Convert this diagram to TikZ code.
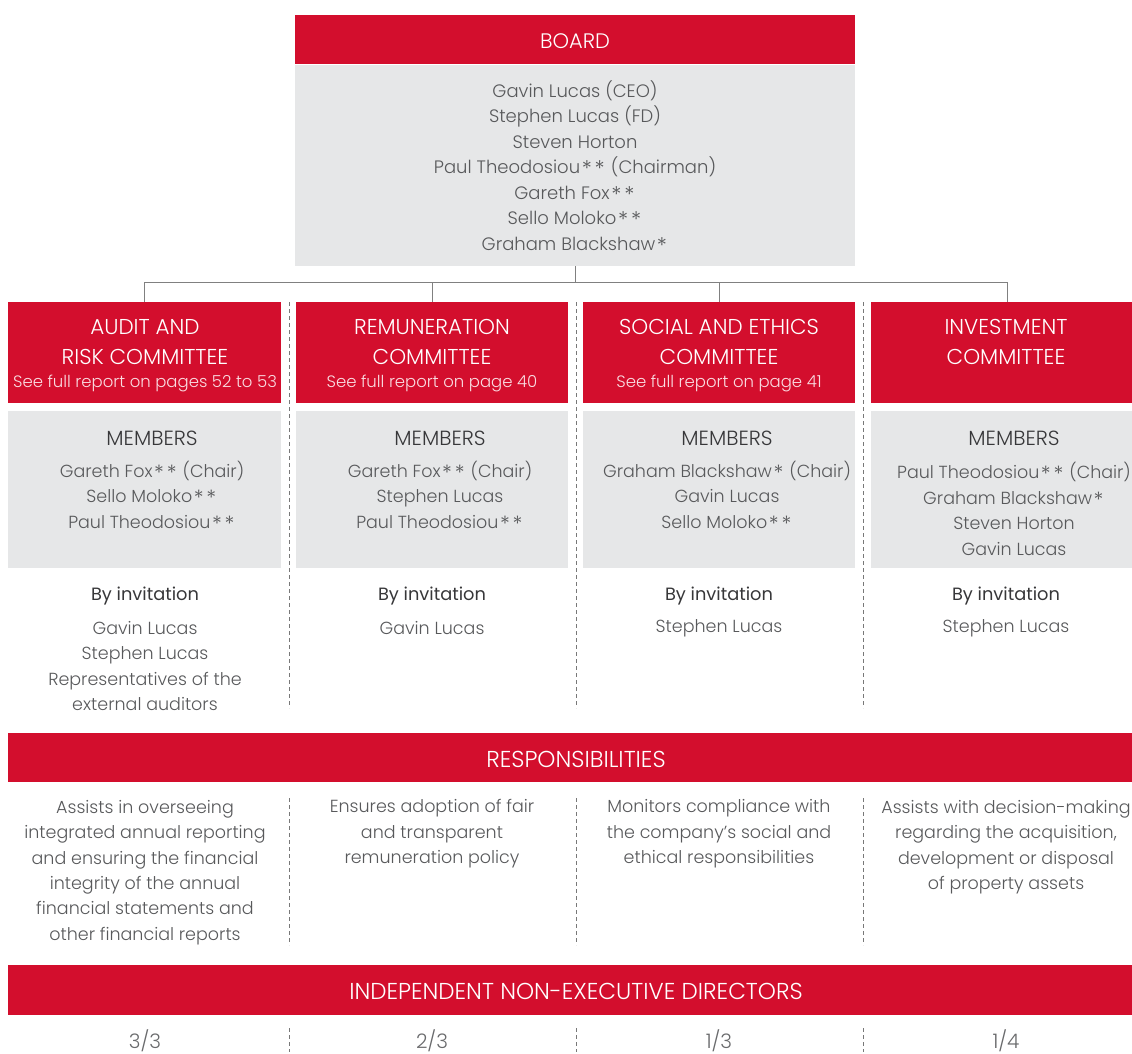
\documentclass[tikz,border=0pt]{standalone}
\usepackage{fontspec}
\usepackage{graphicx}
\IfFontExistsTF{Poppins Light}{%
  \setmainfont{Poppins Light}\newfontfamily\medfont{Poppins}}{%
  \setmainfont{Poppins}\newfontfamily\medfont{Poppins}}
\newcommand\stt{\kern1.6pt\raisebox{-0.3ex}{\scalebox{1.2}{*}}\kern1.2pt}
\definecolor{bred}{RGB}{211,14,45}
\definecolor{bgray}{RGB}{230,231,232}
\definecolor{txt}{RGB}{88,89,91}
\definecolor{fractxt}{RGB}{105,106,108}
\definecolor{darktxt}{RGB}{55,55,57}
\definecolor{linegray}{RGB}{128,128,128}
\definecolor{dashgray}{RGB}{120,120,120}
\definecolor{subpink}{RGB}{250,220,225}
\tikzset{
  redbox/.style={fill=bred, draw=none, inner sep=0pt, anchor=north west},
  graybox/.style={fill=bgray, draw=none, inner sep=0pt, anchor=north west},
  headtext/.style={text=white, inner sep=0pt, align=center, font=\fontsize{21.5}{30}\selectfont},
  bartext/.style={text=white, inner sep=0pt, align=center, font=\fontsize{23}{30}\selectfont},
  subtext/.style={text=subpink, inner sep=0pt, font=\fontsize{16.5}{20}\selectfont},
  nametext/.style={text=txt, inner sep=0pt, align=center, font=\fontsize{17.5}{25.4}\selectfont},
  boardtext/.style={text=txt, inner sep=0pt, align=center, font=\fontsize{18}{25.5}\selectfont},
  fractext/.style={text=fractxt, inner sep=0pt, font=\fontsize{20}{25}\selectfont},
  membtext/.style={text=darktxt, inner sep=0pt, align=center, font=\fontsize{20.5}{25.4}\selectfont},
  labeltext/.style={text=darktxt, inner sep=0pt, align=center, font=\medfont\fontsize{17.8}{25.4}\selectfont},
  conn/.style={draw=linegray, line width=1.3pt},
  sep/.style={draw=dashgray, line width=0.8pt, dash pattern=on 4pt off 3pt},
}
\begin{document}
\begin{tikzpicture}[x=1pt,y=-1pt]
\useasboundingbox (0,0) rectangle (1132,1054);
\clip (0,0) rectangle (1132,1054);
% Board
\node[redbox, minimum width=560pt, minimum height=49pt] (boardhead) at (295,15) {};
\node[headtext, font=\fontsize{21}{30}\selectfont] (boardtitle) at (575,41) {BOARD};
\node[graybox, minimum width=560pt, minimum height=201pt] (boardbody) at (295,65) {};
\node[boardtext] (boardnames) at (575,167) {Gavin Lucas (CEO)\\Stephen Lucas (FD)\\Steven Horton\\Paul Theodosiou\stt\stt{} (Chairman)\\Gareth Fox\stt\stt\\Sello Moloko\stt\stt\\Graham Blackshaw\stt};
% Committees
\node[redbox, minimum width=273pt, minimum height=101pt] (c1) at (8,302) {};
\node[redbox, minimum width=272pt, minimum height=101pt] (c2) at (296,302) {};
\node[redbox, minimum width=272pt, minimum height=101pt] (c3) at (583,302) {};
\node[redbox, minimum width=273pt, minimum height=101pt] (c4) at (871,302) {};
\draw[conn] (boardbody.south) -- ++(0,16) -| (c1.north);
\draw[conn] (boardbody.south) -- ++(0,16) -| (c2.north);
\draw[conn] (boardbody.south) -- ++(0,16) -| (c3.north);
\draw[conn] (boardbody.south) -- ++(0,16) -| (c4.north);
\node[headtext] (t1) at (145,342) {AUDIT AND\\RISK COMMITTEE};
\node[subtext] (s1) at (145,383) {See full report on pages 52 to 53};
\node[headtext] (t2) at (432,342) {REMUNERATION\\COMMITTEE};
\node[subtext] (s2) at (432,383) {See full report on page 40};
\node[headtext] (t3) at (719,342) {SOCIAL AND ETHICS\\COMMITTEE};
\node[subtext] (s3) at (719,383) {See full report on page 41};
\node[headtext] (t4) at (1006,342) {INVESTMENT\\COMMITTEE};
% Members
\node[graybox, minimum width=273pt, minimum height=157pt] (m1) at (8,411) {};
\node[graybox, minimum width=272pt, minimum height=157pt] (m2) at (296,411) {};
\node[graybox, minimum width=272pt, minimum height=157pt] (m3) at (583,411) {};
\node[graybox, minimum width=273pt, minimum height=157pt] (m4) at (871,411) {};
\node[membtext] (ml1) at (152,438) {MEMBERS};
\node[membtext] (ml2) at (440,438) {MEMBERS};
\node[membtext] (ml3) at (727,438) {MEMBERS};
\node[membtext] (ml4) at (1014,438) {MEMBERS};
\node[nametext] (mn1) at (152,496) {Gareth Fox\stt\stt{} (Chair)\\Sello Moloko\stt\stt\\Paul Theodosiou\stt\stt};
\node[nametext] (mn2) at (440,496) {Gareth Fox\stt\stt{} (Chair)\\Stephen Lucas\\Paul Theodosiou\stt\stt};
\node[nametext] (mn3) at (727,496) {Graham Blackshaw\stt{} (Chair)\\Gavin Lucas\\Sello Moloko\stt\stt};
\node[nametext] (mn4) at (1014,509) {Paul Theodosiou\stt\stt{} (Chair)\\Graham Blackshaw\stt\\Steven Horton\\Gavin Lucas};
% By invitation
\node[labeltext] (b1) at (145,596) {By invitation};
\node[labeltext] (b2) at (432,596) {By invitation};
\node[labeltext] (b3) at (719,596) {By invitation};
\node[labeltext] (b4) at (1006,596) {By invitation};
\node[nametext] (bn1) at (145,666) {Gavin Lucas\\Stephen Lucas\\Representatives of the\\external auditors};
\node[nametext] (bn2) at (432,628) {Gavin Lucas};
\node[nametext] (bn3) at (719,628) {Stephen Lucas};
\node[nametext] (bn4) at (1006,628) {Stephen Lucas};
\foreach \x in {289,576,863} \draw[sep] (\x,302) -- (\x,708);
% Responsibilities
\node[redbox, minimum width=1136pt, minimum height=49pt] (resp) at (8,733) {};
\node[bartext] (resptitle) at (576,759) {RESPONSIBILITIES};
\node[nametext] (r1) at (145,872.5) {Assists in overseeing\\integrated annual reporting\\and ensuring the financial\\integrity of the annual\\financial statements and\\other financial reports};
\node[nametext] (r2) at (432,834) {Ensures adoption of fair\\and transparent\\remuneration policy};
\node[nametext] (r3) at (719,834) {Monitors compliance with\\the company’s social and\\ethical responsibilities};
\node[nametext] (r4) at (1006,847) {Assists with decision-making\\regarding the acquisition,\\development or disposal\\of property assets};
\foreach \x in {289,576,863} \draw[sep] (\x,798) -- (\x,945);
% Independent
\node[redbox, minimum width=1136pt, minimum height=50pt] (ind) at (8,965) {};
\node[bartext] (indtitle) at (576,991) {INDEPENDENT NON-EXECUTIVE DIRECTORS};
\node[fractext] (f1) at (145,1041) {3/3};
\node[fractext] (f2) at (432,1041) {2/3};
\node[fractext] (f3) at (719,1041) {1/3};
\node[fractext] (f4) at (1006,1041) {1/4};
\foreach \x in {289,576,863} \draw[sep] (\x,1028) -- (\x,1052);
\end{tikzpicture}
\end{document}
